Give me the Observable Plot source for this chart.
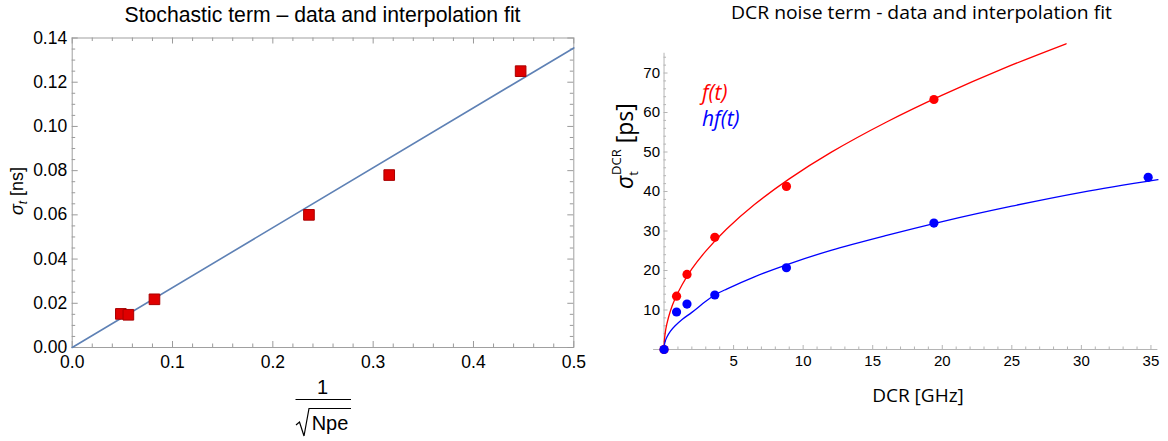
<!DOCTYPE html>
<html><head><meta charset="utf-8">
<script src="https://cdn.jsdelivr.net/npm/d3@7"></script>
<script src="https://cdn.jsdelivr.net/npm/@observablehq/plot@0.6"></script>
<style>
body{margin:0;background:#fff;}
#wrap{position:relative;width:1168px;height:441px;overflow:hidden;}
#left{position:absolute;left:0;top:0;}
#right{position:absolute;left:590px;top:0;}
#overlay{position:absolute;left:0;top:0;pointer-events:none;}
</style></head>
<body>
<div id="wrap"><div id="left"></div><div id="right"></div>
<svg id="overlay" width="1168" height="441" xmlns="http://www.w3.org/2000/svg">
  <text x="322.5" y="22" text-anchor="middle" font-family="Liberation Sans, Arial, sans-serif" font-size="22" textLength="396" lengthAdjust="spacingAndGlyphs">Stochastic term – data and interpolation fit</text>
  <text x="921.5" y="19" text-anchor="middle" font-family="Open Sans, sans-serif" font-size="18" textLength="381" lengthAdjust="spacingAndGlyphs">DCR noise term - data and interpolation fit</text>
  <g transform="translate(23,191) rotate(-90)" font-family="Liberation Sans, Arial, sans-serif" font-size="18">
    <text text-anchor="middle"><tspan font-style="italic">σ</tspan><tspan font-style="italic" font-size="12" dy="4">t</tspan><tspan dy="-4"> [ns]</tspan></text>
  </g>
  <g font-family="Liberation Sans, Arial, sans-serif" font-size="20">
    <text x="322.5" y="394" text-anchor="middle">1</text>
    <line x1="295.5" x2="351" y1="399.5" y2="399.5" stroke="#000" stroke-width="1"/>
    <path d="M296,425 L299.5,422 L304,436 L309,408.5 L351,408.5" fill="none" stroke="#000" stroke-width="1.2"/>
    <text x="330" y="430" text-anchor="middle">Npe</text>
  </g>
  <g transform="translate(633,150) rotate(-90)" font-family="Open Sans, sans-serif" font-size="23">
    <text x="-39" text-anchor="start"><tspan font-style="italic">σ</tspan><tspan font-size="13" dy="5">t</tspan><tspan font-size="13" dx="-4" dy="-17">DCR</tspan><tspan dy="12"> [ps]</tspan></text>
  </g>
  <text x="918" y="402" text-anchor="middle" font-family="Open Sans, sans-serif" font-size="19">DCR [GHz]</text>
  <text x="702" y="100" font-family="Open Sans, sans-serif" font-size="21" font-style="italic" fill="#ff0000">f(t)</text>
  <text x="702" y="126" font-family="Open Sans, sans-serif" font-size="21" font-style="italic" fill="#0000ff">hf(t)</text>
</svg>
</div>
<script>
// ---------- Left chart data: stochastic term ----------
const invSqrtNpe = [0.0485, 0.056, 0.082, 0.236, 0.316, 0.447];
const sigmaT_ns  = [0.0152, 0.0148, 0.0218, 0.060, 0.078, 0.125];
const stochFitX  = [0, 0.5];
const stochFitY  = [0, 0.1355];
const leftXTicks = [0, 0.1, 0.2, 0.3, 0.4, 0.5];
const leftYTicks = [0, 0.02, 0.04, 0.06, 0.08, 0.10, 0.12, 0.14];

// ---------- Right chart data: DCR noise term ----------
const dcrF     = [0, 0.9, 1.65, 3.65, 8.8, 19.4];
const sigmaF   = [0, 13.5, 19.0, 28.4, 41.3, 63.3];
const dcrHF    = [0, 0.9, 1.65, 3.65, 8.8, 19.4, 34.8];
const sigmaHF  = [0, 9.5, 11.5, 13.8, 20.7, 32.0, 43.6];
// fit curves
const fitFX  = [0, 0.02, 0.08, 0.2, 0.45, 0.8, 1.3, 2, 3, 4.5, 6.5, 9, 12, 16, 20, 24.5, 28.9];
const fitFY  = [0, 2.0, 4.1, 6.4, 9.7, 12.9, 16.4, 20.4, 24.9, 30.5, 36.7, 43.2, 49.9, 57.6, 64.4, 71.3, 77.4];
const fitHFX = [0, 0.02, 0.08, 0.2, 0.45, 0.8, 1.3, 2, 3, 3.65, 4.5, 6.5, 9, 12, 16, 20, 25, 30, 35.5];
const fitHFY = [0, 1.0, 2.0, 3.1, 4.6, 6.0, 7.6, 9.4, 12.2, 13.8, 15.3, 18.4, 21.7, 25.1, 28.9, 32.4, 36.3, 39.8, 43.0];
const rightXTicks = [5, 10, 15, 20, 25, 30, 35];
const rightYTicks = [10, 20, 30, 40, 50, 60, 70];

const zip = (xs, ys) => xs.map((x, i) => ({x, y: ys[i]}));

// ---------- Left plot ----------
const LW = 590, LH = 441;
const lm = {top: 37.5, right: 16.7, bottom: 94, left: 71.7};
const lpw = LW - lm.left - lm.right, lph = LH - lm.top - lm.bottom;
const xMinorL = d3.range(0, 0.5001, 0.02).filter(v => Math.abs(v * 10 - Math.round(v * 10)) > 1e-6);
const yMinorL = d3.range(0, 0.14001, 0.005).filter(v => Math.abs(v * 50 - Math.round(v * 50)) > 1e-6);
const tc = "#9a9a9a";
const left = Plot.plot({
  width: LW, height: LH,
  marginTop: lm.top, marginRight: lm.right, marginBottom: lm.bottom, marginLeft: lm.left,
  x: {domain: [0, 0.5], axis: null},
  y: {domain: [0, 0.14], axis: null},
  style: {fontFamily: "Liberation Sans, Arial, sans-serif", fontSize: "17px", color: "#000", background: "transparent", overflow: "visible"},
  marks: [
    Plot.frame({stroke: "#a0a0a0"}),
    Plot.ruleX(leftXTicks, {x: d => d, stroke: tc, insetTop: lph - 6}),
    Plot.ruleX(xMinorL, {x: d => d, stroke: tc, insetTop: lph - 3.5}),
    Plot.ruleX(leftXTicks, {x: d => d, stroke: tc, insetBottom: lph - 6}),
    Plot.ruleX(xMinorL, {x: d => d, stroke: tc, insetBottom: lph - 3.5}),
    Plot.ruleY(leftYTicks, {y: d => d, stroke: tc, insetRight: lpw - 6}),
    Plot.ruleY(yMinorL, {y: d => d, stroke: tc, insetRight: lpw - 3.5}),
    Plot.ruleY(leftYTicks, {y: d => d, stroke: tc, insetLeft: lpw - 6}),
    Plot.ruleY(yMinorL, {y: d => d, stroke: tc, insetLeft: lpw - 3.5}),
    Plot.text(leftXTicks, {x: d => d, frameAnchor: "bottom", text: d => d3.format(".1f")(d), lineAnchor: "top", dy: 8, fontSize: 17.5}),
    Plot.text(leftYTicks, {y: d => d, frameAnchor: "left", text: d => d3.format(".2f")(d), textAnchor: "end", dx: -5, fontSize: 17.5}),
    Plot.line(zip(stochFitX, stochFitY), {x: "x", y: "y", stroke: "#5E81B5", strokeWidth: 1.6}),
    Plot.dot(zip(invSqrtNpe, sigmaT_ns), {x: "x", y: "y", symbol: "square", r: 6, fill: "#e00000", stroke: "#a80000", strokeWidth: 1})
  ]
});
document.getElementById("left").appendChild(left);

// ---------- Right plot ----------
const RW = 578, RH = 441;
const rm = {top: 42.5, right: 10.6, bottom: 92, left: 63.1};
const rpw = RW - rm.left - rm.right, rph = RH - rm.top - rm.bottom;
const rxDom = [-0.75, 35.5], ryDom = [0, 77.6];
const x0px = (0 - rxDom[0]) / (rxDom[1] - rxDom[0]) * rpw;
const xMinorR = d3.range(1, 36, 1).filter(v => v % 5 !== 0);
const yMinorR = d3.range(2, 76, 2).filter(v => v % 10 !== 0);
const ac = "#b4b4b4";
const right = Plot.plot({
  width: RW, height: RH,
  marginTop: rm.top, marginRight: rm.right, marginBottom: rm.bottom, marginLeft: rm.left,
  x: {domain: rxDom, axis: null},
  y: {domain: ryDom, axis: null},
  style: {fontFamily: "Liberation Sans, Arial, sans-serif", fontSize: "15px", color: "#000", background: "transparent", overflow: "visible"},
  marks: [
    Plot.ruleY([0], {stroke: ac}),
    Plot.ruleX([0], {y1: 0, y2: 75, stroke: ac}),
    Plot.ruleX(rightXTicks, {x: d => d, stroke: ac, insetTop: rph - 4}),
    Plot.ruleX(xMinorR, {x: d => d, stroke: ac, insetTop: rph - 2.5}),
    Plot.ruleY(rightYTicks, {y: d => d, stroke: ac, insetLeft: x0px, insetRight: rpw - x0px - 4}),
    Plot.ruleY(yMinorR, {y: d => d, stroke: ac, insetLeft: x0px, insetRight: rpw - x0px - 2.5}),
    Plot.text(rightXTicks, {x: d => d, y: 0, text: d => String(d), lineAnchor: "top", dy: 6, fontSize: 15}),
    Plot.text(rightYTicks, {x: 0, y: d => d, text: d => String(d), dx: -4, textAnchor: "end", fontSize: 15}),
    Plot.line(zip(fitFX, fitFY), {x: "x", y: "y", stroke: "#ff0000", strokeWidth: 1.3, curve: "catmull-rom"}),
    Plot.line(zip(fitHFX, fitHFY), {x: "x", y: "y", stroke: "#0000ff", strokeWidth: 1.3, curve: "catmull-rom"}),
    Plot.dot(zip(dcrF, sigmaF), {x: "x", y: "y", r: 4.6, fill: "#ff0000"}),
    Plot.dot(zip(dcrHF, sigmaHF), {x: "x", y: "y", r: 4.6, fill: "#0000ff"})
  ]
});
document.getElementById("right").appendChild(right);
</script>
</body></html>
